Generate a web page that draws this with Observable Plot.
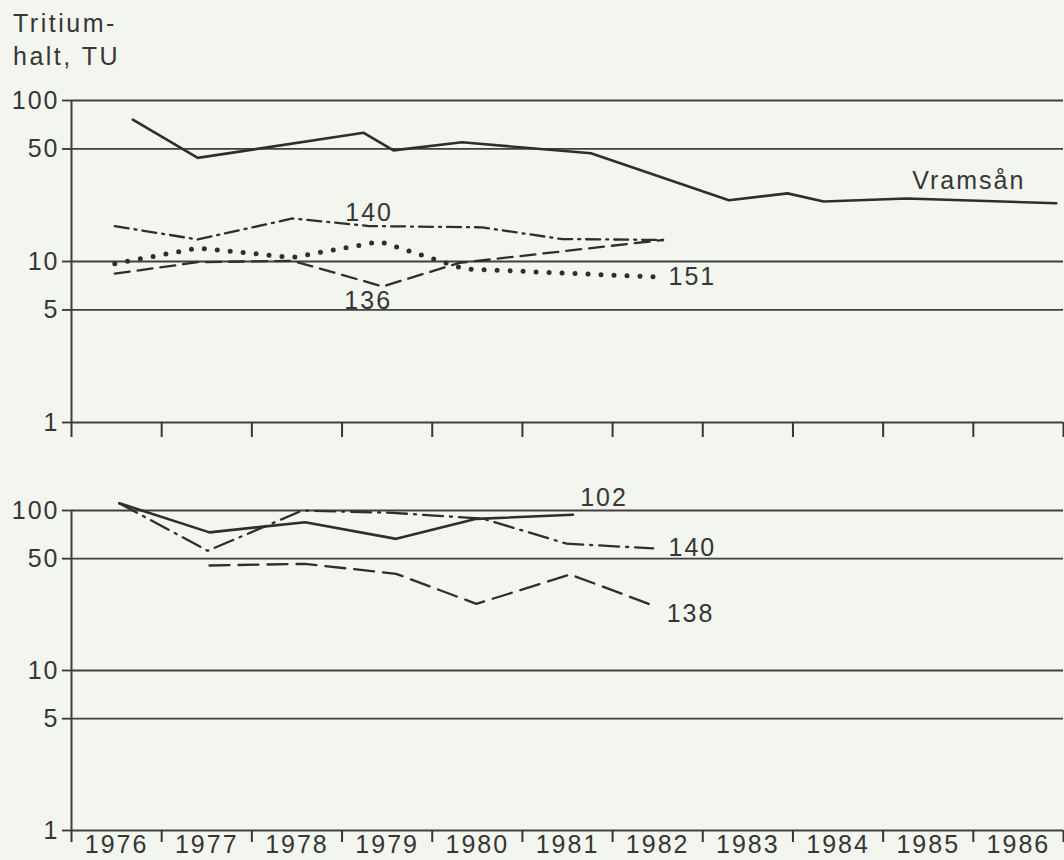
<!DOCTYPE html>
<html>
<head>
<meta charset="utf-8">
<script src="https://cdn.jsdelivr.net/npm/d3@7"></script>
<script src="https://cdn.jsdelivr.net/npm/@observablehq/plot@0.6"></script>
<style>
  html, body { margin: 0; padding: 0; background: #f3f5ef; }
  body {
    width: 1064px; height: 860px; overflow: hidden;
    font-family: "Liberation Sans", Arial, Helvetica, sans-serif;
    color: #363636;
  }
  #ytitle {
    height: 85px; box-sizing: border-box;
    padding: 7px 0 0 13px;
    font-size: 25px; line-height: 33px; letter-spacing: 2.5px;
  }
  svg { display: block; }
</style>
</head>
<body>
<div id="ytitle">Tritium-<br>halt, TU</div>
<div id="upper"></div>
<div id="lower"></div>
<script>
// ---- Tritium content (TU), upper panel: Vramsån and wells 140, 151, 136 ----
const vramsanYear = [1976.68, 1977.40, 1979.24, 1979.57, 1980.33, 1981.76, 1983.29, 1983.94, 1984.34, 1985.26, 1986.92];
const vramsanTU   = [76, 44, 63, 49, 55, 47, 24, 26.5, 23.6, 24.6, 23];

const w140aYear = [1976.48, 1977.40, 1978.45, 1979.30, 1980.55, 1981.43, 1982.56];
const w140aTU   = [16.6, 13.7, 18.5, 16.6, 16.3, 13.8, 13.6];

const w151Year = [1976.48, 1977.40, 1978.45, 1979.42, 1980.35, 1982.51];
const w151TU   = [9.7, 12.1, 10.6, 13.3, 9.0, 8.0];

const w136Year = [1976.48, 1977.40, 1978.45, 1979.45, 1980.30, 1982.56];
const w136TU   = [8.4, 9.9, 10.1, 7.0, 9.8, 13.6];

// ---- Lower panel: wells 102, 140, 138 ----
const w102Year = [1976.53, 1977.53, 1978.59, 1979.60, 1980.49, 1981.56];
const w102TU   = [111, 73, 84.5, 66.5, 88.7, 94];

const w140bYear = [1976.53, 1977.51, 1978.56, 1979.56, 1980.56, 1981.49, 1982.45];
const w140bTU   = [111, 56, 100, 96.7, 89, 62, 58];

const w138Year = [1977.53, 1978.59, 1979.60, 1980.49, 1981.53, 1982.45];
const w138TU   = [45.3, 46.4, 40.2, 26.1, 39.8, 25.5];

// ---- Axes ----
const yTicks = [1, 5, 10, 50, 100];
const gridTU = [5, 10, 50, 100];
const yearBounds = [1976, 1977, 1978, 1979, 1980, 1981, 1982, 1983, 1984, 1985, 1986, 1987];
const yearLabels = ["1976", "1977", "1978", "1979", "1980", "1981", "1982", "1983", "1984", "1985", "1986"];

const ink = "#2e2e2e";
const series = (years, values) => years.map((t, i) => ({t, tu: values[i]}));

const solid   = {stroke: ink, strokeWidth: 2.6};
const dashDot = (d) => ({stroke: ink, strokeWidth: 2.3, strokeDasharray: d});
const dashed  = (d) => ({stroke: ink, strokeWidth: 2.3, strokeDasharray: d});
const dotted  = {stroke: ink, strokeWidth: 5, strokeDasharray: "0,13", strokeLinecap: "round"};

function frameMarks(tickLen) {
  return [
    Plot.ruleY(gridTU, {stroke: "#404040", strokeWidth: 1.8}),
    Plot.ruleY([1], {stroke: "#404040", strokeWidth: 2}),
    Plot.ruleX([1976], {stroke: "#404040", strokeWidth: 2}),
    Plot.axisY({ticks: yTicks, tickSize: 9, tickPadding: 3, strokeWidth: 1.8,
                label: null, tickFormat: d => String(d)}),
    Plot.axisX({ticks: yearBounds, tickSize: tickLen, strokeWidth: 2,
                label: null, tickFormat: () => ""})
  ];
}

function label(t, tu, text, anchor) {
  return Plot.text([{t, tu, text}], {x: "t", y: "tu", text: "text",
    textAnchor: anchor, fontSize: 25, fill: "#363636"});
}

const common = {
  width: 1064,
  marginLeft: 71,
  marginRight: 1,
  x: {type: "linear", domain: [1976, 1987], axis: null},
  y: {type: "log", domain: [1, 100], axis: null},
  style: {
    fontFamily: '"Liberation Sans", Arial, Helvetica, sans-serif',
    fontSize: "25px",
    letterSpacing: "2px",
    color: "#363636",
    background: "transparent",
    overflow: "visible"
  }
};

const upper = Plot.plot({
  ...common,
  height: 372,
  marginTop: 15,
  marginBottom: 35,
  marks: [
    ...frameMarks(15),
    Plot.line(series(vramsanYear, vramsanTU), {x: "t", y: "tu", ...solid}),
    Plot.line(series(w140aYear, w140aTU), {x: "t", y: "tu", ...dashDot("14,6,2,6")}),
    Plot.line(series(w151Year, w151TU), {x: "t", y: "tu", ...dotted}),
    Plot.line(series(w136Year, w136TU), {x: "t", y: "tu", ...dashed("15,8")}),
    label(1985.95, 31.5, "Vramsån", "middle"),
    label(1979.3, 20.1, "140", "middle"),
    label(1979.29, 5.7, "136", "middle"),
    label(1982.62, 8.0, "151", "start")
  ]
});

const lower = Plot.plot({
  ...common,
  height: 403,
  marginTop: 53,
  marginBottom: 30,
  marks: [
    ...frameMarks(12),
    Plot.axisX({ticks: yearLabels.map(s => +s + 0.5), tickSize: 0, tickPadding: 5,
                label: null, tickFormat: d => yearLabels[Math.floor(d) - 1976]}),
    Plot.line(series(w102Year, w102TU), {x: "t", y: "tu", ...solid}),
    Plot.line(series(w140bYear, w140bTU), {x: "t", y: "tu", ...dashDot("20,7,2,7")}),
    Plot.line(series(w138Year, w138TU), {x: "t", y: "tu", ...dashed("20,9")}),
    label(1981.64, 119, "102", "start"),
    label(1982.62, 58.7, "140", "start"),
    label(1982.6, 22.7, "138", "start")
  ]
});

document.getElementById("upper").appendChild(upper);
document.getElementById("lower").appendChild(lower);
</script>
</body>
</html>
